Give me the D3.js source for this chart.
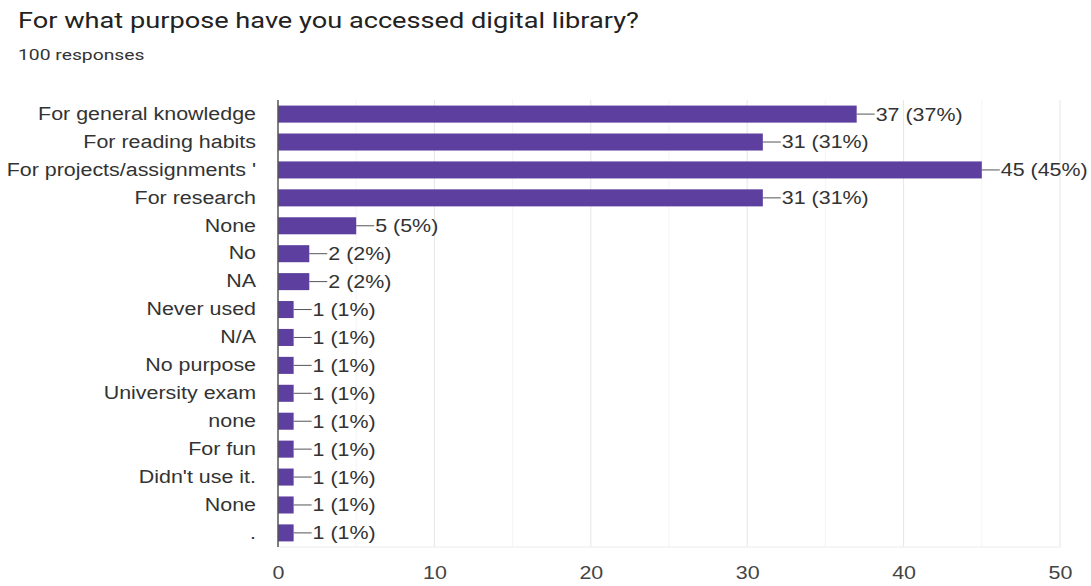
<!DOCTYPE html>
<html>
<head>
<meta charset="utf-8">
<script src="https://cdn.jsdelivr.net/npm/d3@7"></script>
<style>
  html, body { margin: 0; padding: 0; background: #fff; }
  svg { display: block; }
</style>
</head>
<body>
<svg id="chart" width="1091" height="586"></svg>
<script>
// Survey answers: purpose of accessing the digital library
const categories = [
  "For general knowledge",
  "For reading habits",
  "For projects/assignments '",
  "For research",
  "None",
  "No",
  "NA",
  "Never used",
  "N/A",
  "No purpose",
  "University exam",
  "none",
  "For fun",
  "Didn't use it.",
  "None",
  "."
];
const counts = [37, 31, 45, 31, 5, 2, 2, 1, 1, 1, 1, 1, 1, 1, 1, 1];
const totalResponses = 100;
const xTicks = [0, 10, 20, 30, 40, 50];
const minorTicks = [5, 15, 25, 35, 45];

const svg = d3.select("#chart");
const margin = { top: 100, right: 31, bottom: 39, left: 278 };
const W = 1091, H = 586;
const LABEL_FONT = "'Liberation Sans', Arial, sans-serif";
const STRETCH = 1.19; // wide glyph rendering

// Widen a text element horizontally while keeping its anchor
function widen(sel, factor) {
  sel.each(function () {
    const len = this.getComputedTextLength();
    if (len > 0) {
      d3.select(this)
        .attr("textLength", len * factor)
        .attr("lengthAdjust", "spacingAndGlyphs");
    }
  });
}

// Title block
svg.append("text")
  .attr("x", 18).attr("y", 28)
  .attr("font-family", "Roboto, 'Liberation Sans', sans-serif")
  .attr("font-size", 22)
  .attr("fill", "#222")
  .text("For what purpose have you accessed digital library?")
  .call(widen, 1.235);
svg.append("text")
  .attr("x", 18).attr("y", 60)
  .attr("font-family", "Roboto, 'Liberation Sans', sans-serif")
  .attr("font-size", 14.5)
  .attr("fill", "#333")
  .text(totalResponses + " responses")
  .call(widen, 1.33);

const rows = categories.map((c, i) => ({ key: i, label: c, value: counts[i] }));

const x = d3.scaleLinear().domain([0, 50]).range([margin.left, W - margin.right]);
const y = d3.scaleBand()
  .domain(rows.map(d => d.key))
  .range([margin.top, H - margin.bottom])
  .paddingInner(0.39)
  .paddingOuter(0.2);

const g = svg.append("g");

// Gridlines: light minor lines at the half steps, major lines at labelled ticks
g.selectAll("line.minor")
  .data(minorTicks)
  .join("line")
  .attr("class", "minor")
  .attr("x1", d => x(d)).attr("x2", d => x(d))
  .attr("y1", margin.top).attr("y2", H - margin.bottom)
  .attr("stroke", "#f4f4f4").attr("stroke-width", 1);
g.selectAll("line.grid")
  .data(xTicks.slice(1))
  .join("line")
  .attr("class", "grid")
  .attr("x1", d => x(d)).attr("x2", d => x(d))
  .attr("y1", margin.top).attr("y2", H - margin.bottom)
  .attr("stroke", "#e6e6e6").attr("stroke-width", 1);

// Bottom baseline
g.append("line")
  .attr("x1", x(0)).attr("x2", x(50))
  .attr("y1", H - margin.bottom).attr("y2", H - margin.bottom)
  .attr("stroke", "#ececec");

// Bars
g.selectAll("rect.bar")
  .data(rows)
  .join("rect")
  .attr("class", "bar")
  .attr("x", x(0))
  .attr("y", d => y(d.key))
  .attr("width", d => x(d.value) - x(0))
  .attr("height", y.bandwidth())
  .attr("fill", "#5d3f9f");

// Value connectors and labels
const lbl = g.selectAll("g.val").data(rows).join("g").attr("class", "val");
lbl.append("line")
  .attr("x1", d => x(d.value))
  .attr("x2", d => x(d.value) + 18)
  .attr("y1", d => y(d.key) + y.bandwidth() / 2)
  .attr("y2", d => y(d.key) + y.bandwidth() / 2)
  .attr("stroke", "#555").attr("stroke-width", 1);
lbl.append("text")
  .attr("x", d => x(d.value) + 19)
  .attr("y", d => y(d.key) + y.bandwidth() / 2)
  .attr("dy", "0.36em")
  .attr("font-family", LABEL_FONT)
  .attr("font-size", 18)
  .attr("fill", "#333")
  .text(d => `${d.value} (${Math.round(d.value / totalResponses * 100)}%)`)
  .call(widen, STRETCH);

// Y axis (category labels)
const yAxis = d3.axisLeft(y).tickSize(0).tickPadding(22).tickFormat(i => categories[i]);
const ya = svg.append("g").attr("transform", `translate(${x(0)},0)`).call(yAxis);
ya.select(".domain").remove();
ya.selectAll("text")
  .attr("font-family", LABEL_FONT)
  .attr("font-size", 18)
  .attr("fill", "#333")
  .call(widen, STRETCH);

// Zero line
svg.append("line")
  .attr("x1", x(0)).attr("x2", x(0))
  .attr("y1", margin.top).attr("y2", H - margin.bottom)
  .attr("stroke", "#555").attr("stroke-width", 1.5);

// X axis
const xAxis = d3.axisBottom(x).tickValues(xTicks).tickSize(0).tickPadding(19);
const xa = svg.append("g").attr("transform", `translate(0,${H - margin.bottom})`).call(xAxis);
xa.select(".domain").remove();
xa.selectAll("text")
  .attr("font-family", LABEL_FONT)
  .attr("font-size", 18)
  .attr("fill", "#444")
  .call(widen, STRETCH);
</script>
</body>
</html>
